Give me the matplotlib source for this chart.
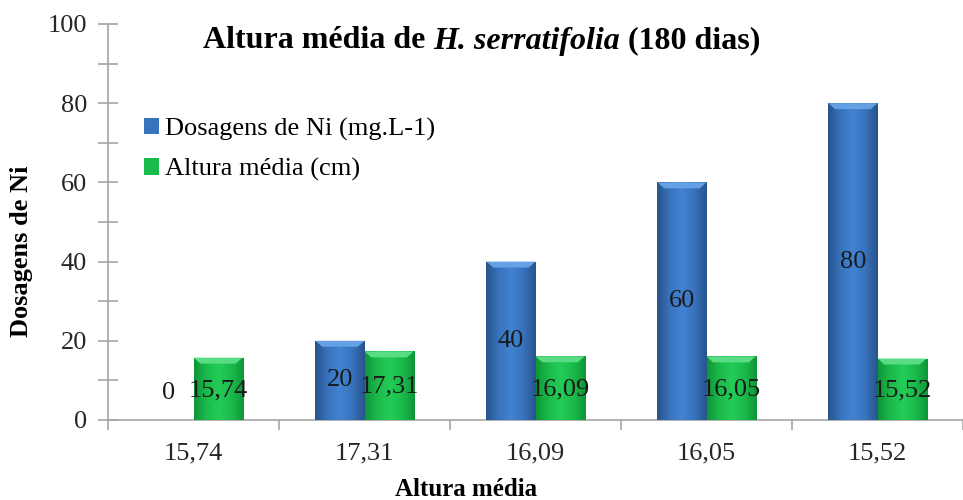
import numpy as np
import matplotlib
matplotlib.use("Agg")
import matplotlib.pyplot as plt
from matplotlib.colors import LinearSegmentedColormap

# Dados
categorias = ["15,74", "17,31", "16,09", "16,05", "15,52"]
dosagens = [0, 20, 40, 60, 80]
alturas = [15.74, 17.31, 16.09, 16.05, 15.52]
rotulos_altura = ["15,74", "17,31", "16,09", "16,05", "15,52"]

plt.rcParams['font.family'] = ['Liberation Serif', 'DejaVu Serif']

fig = plt.figure(figsize=(9.63, 5.0), dpi=100)
ax = fig.add_axes([108 / 963, 80 / 500, 855 / 963, 396 / 500])

x = np.arange(len(categorias))
w = 0.287

cmap_azul = LinearSegmentedColormap.from_list(
    "azul", ["#28548c", "#3873bd", "#4183d2", "#3873bd", "#28548c"])
cmap_verde = LinearSegmentedColormap.from_list(
    "verde", ["#0e9638", "#1bbb4b", "#24cc57", "#1bbb4b", "#0e9638"])


def barras(pos, vals, cor, cmap, claro, label):
    bars = ax.bar(pos, vals, w, color=cor, edgecolor='none', label=label, zorder=2)
    grad = np.linspace(0, 1, 64).reshape(1, -1)
    for b in bars:
        h = b.get_height()
        if h <= 0:
            continue
        x0 = b.get_x()
        x1 = x0 + b.get_width()
        im = ax.imshow(grad, cmap=cmap, aspect='auto', extent=(x0, x1, 0, h),
                       zorder=3, interpolation='bicubic')
        im.set_clip_path(b)
        # chanfro superior mais claro
        d = 0.04
        bh = 1.5
        ax.fill([x0, x1, x1 - d, x0 + d], [h, h, h - bh, h - bh],
                color=claro, zorder=4, lw=0)
    return bars


barras(x - w / 2, dosagens, "#3873bd", cmap_azul, "#64a0e4",
       "Dosagens de Ni (mg.L-1)")
barras(x + w / 2, alturas, "#1bbb4b", cmap_verde, "#58dd85",
       "Altura média (cm)")

# rótulos de dados
for xi, v in zip(x, dosagens):
    yv = v / 2 if v > 0 else 6.8
    ax.text(xi - w / 2, yv, str(v), ha='center', va='center', fontsize=19,
            color='#1a1a1a', zorder=5)
for xi, v, t in zip(x, alturas, rotulos_altura):
    ax.text(xi + w / 2, v / 2 - 0.3, t, ha='center', va='center', fontsize=19,
            color='#1a1a1a', zorder=5)

ax.set_xlim(-0.5, -0.5 + 855 / 174.2)
ax.set_ylim(0, 100)
ax.set_yticks(np.arange(0, 101, 20))
ax.set_yticks(np.arange(10, 100, 20), minor=True)
ax.set_xticks(x)
ax.set_xticklabels(categorias)
ax.set_xticks(np.arange(-0.5, 5, 1), minor=True)

for s in ['top', 'right']:
    ax.spines[s].set_visible(False)
for s in ['left', 'bottom']:
    ax.spines[s].set_color('#a6a6a6')
    ax.spines[s].set_linewidth(1.2)

ax.tick_params(axis='y', which='both', direction='inout', length=14,
               color='#a6a6a6', width=1.2, labelsize=19, labelcolor='#262626', pad=8)
ax.tick_params(axis='x', which='major', length=0, labelsize=19,
               labelcolor='#262626', pad=16)
ax.tick_params(axis='x', which='minor', direction='out', length=7,
               color='#a6a6a6', width=1.2)

ax.set_ylabel("Dosagens de Ni", fontsize=19, fontweight='bold')
ax.yaxis.set_label_coords(-75 / 855, 0.425)
fig.text(466 / 963, 1 - 489 / 500, "Altura média", fontsize=18,
         fontweight='bold', ha='center', va='center')

# título com o nome da espécie em itálico
partes = [("Altura média de ", 'normal'), ("H. serratifolia", 'italic'),
          (" (180 dias)", 'normal')]
r = fig.canvas.get_renderer()
objs = [fig.text(0, 1 - 41 / 500, t, fontsize=23, fontweight='bold', style=st,
                 ha='left', va='center') for t, st in partes]
larg = [o.get_window_extent(r).width for o in objs]
x0 = 482 - sum(larg) / 2
for o, l in zip(objs, larg):
    o.set_x(x0 / 963)
    x0 += l

ax.legend(loc='upper left', bbox_to_anchor=(25 / 855, 0.79),
          frameon=False, fontsize=19, handlelength=0.6, handleheight=0.6,
          handletextpad=0.2, labelspacing=0.65, borderaxespad=0)

fig.savefig("out.png", dpi=100)
